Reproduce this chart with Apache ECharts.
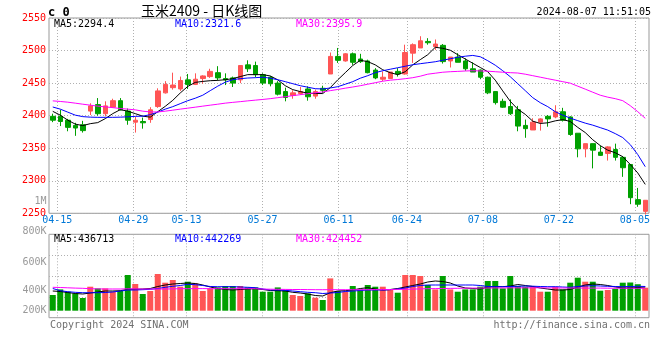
<!DOCTYPE html>
<html><head><meta charset="utf-8">
<script src="https://cdn.jsdelivr.net/npm/echarts@6/dist/echarts.min.js"></script>
<style>html,body{margin:0;padding:0;background:#fff}#c{width:660px;height:360px}</style>
</head><body><div id="c"></div><script>
const dates = ['04-12','04-15','04-16','04-17','04-18','04-19','04-22','04-23','04-24','04-25','04-26','04-29','04-30',
'05-06','05-07','05-08','05-09','05-10','05-13','05-14','05-15','05-16','05-17','05-20','05-21','05-22','05-23','05-24',
'05-27','05-28','05-29','05-30','05-31','06-03','06-04','06-05','06-06','06-07','06-11','06-12','06-13','06-14',
'06-17','06-18','06-19','06-20','06-21','06-24','06-25','06-26','06-27','06-28','07-01','07-02','07-03','07-04','07-05',
'07-08','07-09','07-10','07-11','07-12','07-15','07-16','07-17','07-18','07-19','07-22','07-23','07-24','07-25','07-26',
'07-29','07-30','07-31','08-01','08-02','08-05','08-06','08-07'];
const opens = [2399,2399,2393,2385,2386,2407,2417,2403,2413,2423,2407,2390,2391,2394,2414,2435,2443,2441,2455,2448,
2457,2460,2466,2457,2458,2455,2478,2477,2463,2459,2450,2437,2431,2434,2441,2430,2442,2464,2491,2484,
2495,2487,2484,2470,2456,2457,2468,2464,2496,2504,2514,2506,2508,2484,2490,2484,2472,2470,2459,2437,
2422,2414,2409,2385,2378,2390,2399,2398,2406,2398,2373,2349,2357,2344,2342,2348,2336,2325,2271,2253];
const closes = [2393,2391,2382,2381,2377,2415,2403,2415,2423,2409,2393,2393,2389,2409,2438,2448,2447,2454,2448,2456,
2461,2468,2458,2455,2450,2477,2472,2463,2450,2449,2433,2428,2435,2437,2429,2437,2439,2491,2485,2495,
2482,2483,2466,2458,2459,2467,2464,2497,2509,2515,2512,2510,2483,2490,2482,2472,2467,2459,2435,2420,
2413,2403,2384,2380,2390,2395,2395,2406,2393,2371,2349,2357,2347,2339,2352,2336,2320,2274,2264,2270];
const lows = [2390,2384,2376,2369,2374,2401,2400,2399,2412,2408,2386,2374,2380,2389,2412,2434,2440,2438,2441,2447,
2449,2458,2454,2447,2444,2450,2467,2459,2447,2445,2431,2422,2426,2432,2423,2426,2435,2464,2481,2483,
2478,2481,2465,2456,2453,2457,2460,2463,2481,2504,2509,2501,2480,2474,2482,2469,2467,2456,2433,2417,
2412,2401,2376,2366,2378,2377,2383,2396,2391,2369,2336,2336,2319,2338,2331,2331,2306,2264,2260,2248];
const highs = [2403,2409,2395,2389,2392,2419,2427,2422,2426,2427,2411,2398,2397,2413,2442,2453,2466,2460,2464,2465,
2462,2472,2476,2465,2460,2477,2485,2483,2465,2461,2453,2443,2439,2444,2445,2440,2446,2497,2504,2496,
2497,2495,2486,2473,2468,2467,2473,2509,2511,2522,2519,2517,2510,2490,2496,2488,2482,2471,2460,2437,
2426,2425,2415,2394,2396,2396,2401,2416,2412,2399,2373,2357,2357,2354,2353,2357,2338,2325,2289,2270];
const ma5 = [2406.6,2400.8,2393.1,2387.0,2384.7,2387.7,2389.3,2395.4,2403.1,2409.2,
2406.9,2403.1,2399.2,2397.7,2406.1,2414.3,2423.5,2434.8,2444.9,2451.1,
2452.6,2453.7,2454.2,2455.2,2456.8,2460.0,2463.0,2463.0,2463.0,2461.0,
2455.0,2446.0,2440.0,2437.0,2434.5,2434.0,2434.0,2443.0,2455.0,2466.0,
2477.0,2485.0,2483.0,2478.0,2470.5,2466.0,2463.0,2467.5,2478.0,2486.0,
2493.6,2505.0,2503.5,2500.5,2493.6,2487.0,2480.5,2474.0,2467.5,2454.5,
2438.0,2422.0,2410.0,2402.0,2391.5,2388.0,2389.0,2392.0,2394.0,2391.0,
2382.0,2374.0,2363.0,2354.0,2347.0,2343.0,2337.0,2325.0,2312.0,2294.4];
const ma10 = [2413.3,2410.0,2405.4,2400.8,2398.5,2397.7,2397.4,2397.4,2397.4,2397.7,
2398.2,2398.9,2399.2,2401.5,2405.4,2410.0,2413.8,2418.4,2423.0,2426.8,
2431.4,2438.4,2445.3,2451.4,2455.2,2456.8,2457.8,2458.3,2459.1,2457.5,
2455.2,2452.2,2449.1,2446.0,2443.7,2441.4,2441.0,2442.5,2444.5,2448.3,
2452.2,2457.5,2461.4,2466.0,2469.0,2471.3,2473.6,2475.9,2478.2,2479.8,
2481.3,2482.8,2485.1,2487.4,2489.7,2491.3,2492.5,2490.5,2484.4,2477.5,
2469.0,2459.8,2449.1,2438.4,2427.6,2419.9,2413.8,2406.1,2400.8,2396.2,
2392.3,2388.5,2385.4,2381.6,2377.8,2372.4,2366.3,2355.5,2340.2,2321.6];
const ma30 = [2422.7,2421.8,2420.7,2419.2,2417.6,2416.1,2414.6,2413.5,2412.3,2411.0,
2410.0,2408.9,2406.9,2405.7,2405.7,2406.9,2408.4,2410.0,2411.5,2413.0,
2414.6,2416.1,2417.6,2419.2,2420.4,2421.5,2422.7,2423.8,2424.9,2426.1,
2427.6,2429.1,2430.7,2432.2,2433.7,2435.0,2436.5,2438.4,2440.2,2442.2,
2444.0,2446.0,2448.3,2450.6,2452.9,2454.5,2455.5,2456.8,2458.3,2460.6,
2463.7,2465.2,2466.7,2467.5,2468.0,2468.6,2469.0,2468.7,2468.3,2467.5,
2466.7,2466.0,2465.5,2463.7,2461.4,2459.1,2456.8,2454.5,2452.2,2449.9,
2445.3,2440.7,2436.0,2431.4,2428.4,2426.1,2423.0,2415.3,2406.1,2395.9];
const volumes = [357000,413000,390000,373000,327000,440000,423000,423000,390000,397000,
557000,467000,367000,397000,567000,480000,507000,440000,490000,473000,
397000,423000,433000,447000,447000,447000,433000,433000,390000,390000,
433000,407000,357000,347000,373000,330000,307000,523000,397000,390000,
447000,413000,457000,440000,440000,407000,380000,557000,557000,547000,
457000,413000,547000,413000,390000,413000,413000,440000,497000,497000,
423000,547000,447000,440000,440000,390000,390000,440000,413000,480000,
530000,490000,490000,400000,407000,420000,480000,482000,465000,430000];
const volMa5 = [397000,392000,382000,372000,367000,377000,387000,397000,397000,400000,
414000,414000,417000,422000,442000,457000,467000,472000,477000,472000,
457000,437000,422000,412000,407000,412000,417000,420000,412000,402000,
400000,397000,384000,377000,367000,352000,347000,380000,397000,400000,
407000,422000,430000,417000,407000,412000,422000,437000,452000,467000,
487000,497000,492000,477000,447000,427000,422000,417000,437000,440000,
440000,447000,462000,452000,442000,427000,417000,407000,407000,412000,
437000,457000,467000,462000,452000,437000,427000,427000,432000,436713];
const volMa10 = [422000,400000,390000,384000,380000,380000,380000,382000,387000,397000,
407000,407000,410000,414000,422000,434000,444000,452000,464000,460000,
452000,442000,440000,440000,440000,437000,434000,430000,417000,407000,
407000,404000,397000,390000,384000,380000,372000,377000,382000,392000,
397000,402000,407000,407000,407000,410000,417000,427000,442000,452000,
457000,457000,457000,457000,457000,457000,457000,452000,442000,440000,
440000,442000,444000,447000,445000,442000,440000,440000,437000,434000,
442000,447000,450000,447000,444000,442000,440000,442000,444000,442269];
const volMa30 = [434000,432000,429000,426000,424000,420000,418000,417000,417000,417000,
419000,418000,417000,417000,417000,417000,418000,420000,420000,421000,
421000,420000,420000,420000,420000,420000,420000,420000,416000,415000,
414000,413000,412000,412000,411000,410000,410000,410000,410000,410000,
410000,410000,410000,411000,411000,412000,413000,414000,416000,418000,
420000,421000,422000,423000,424000,425000,426000,427000,427000,428000,
428000,429000,429000,429000,429000,429000,428000,428000,427000,427000,
427000,426000,426000,426000,425000,425000,425000,425000,424500,424452];
const dateTicks = ['04-15','04-29','05-13','05-27','06-11','06-24','07-08','07-22','08-05'];
const priceMin = 2250, priceMax = 2550, priceStep = 50;
const volTickLabels = ['1M','800K','600K','400K','200K'];
const titleText = '玉米2409 - 日K线图';
const timeText = '2024-08-07 11:51:05';

// ---- layout / style ----
const volTickY = [201, 231, 262, 290, 310];
const RED = '#FF5555', GREEN = '#00A000';
const GRIDC = '#B0B0B0';
const MONO = '"DejaVu Sans Mono", monospace';
const L = 49, W = 600;
const dotted = {color: GRIDC, type: [1, 2], width: 1};
const tickIdx = dateTicks.map(d => dates.indexOf(d));
const gxMin = -0.092, gxMax = 78.855;

const chart = echarts.init(document.getElementById('c'));
function txt(x, y, text, color, font, align) {
  return {type: 'text', x: x, y: y, silent: true, z: 100,
    style: {text: text, fill: color, font: font, textAlign: align || 'left', textVerticalAlign: 'middle'}};
}
const f10 = '10px ' + MONO;
const graphics = [
  txt(48, 13, 'c 0', '#000', 'bold 12px ' + MONO),
  txt(141, 11, titleText, '#000', '14px "Noto Sans CJK SC"'),
  txt(651, 12, timeText, '#000', f10, 'right'),
  txt(54, 24, 'MA5:' + ma5[ma5.length - 1].toFixed(1), '#000', f10),
  txt(175, 24, 'MA10:' + ma10[ma10.length - 1].toFixed(1), '#0000FF', f10),
  txt(296, 24, 'MA30:' + ma30[ma30.length - 1].toFixed(1), '#FF00FF', f10),
  txt(54, 239, 'MA5:' + Math.round(volMa5[volMa5.length - 1]), '#000', f10),
  txt(175, 239, 'MA10:' + Math.round(volMa10[volMa10.length - 1]), '#0000FF', f10),
  txt(296, 239, 'MA30:' + Math.round(volMa30[volMa30.length - 1]), '#FF00FF', f10),
  txt(50, 325, 'Copyright 2024 SINA.COM', '#707070', f10),
  txt(650, 325, 'http://finance.sina.com.cn', '#707070', f10, 'right')
];
volTickLabels.forEach((t, i) => graphics.push(txt(46.5, volTickY[i], t, '#999999', f10, 'right')));

const lineS = (data, color, xi, yi) => ({type: 'line', data: data, xAxisIndex: xi, yAxisIndex: yi,
  symbol: 'none', silent: true, lineStyle: {color: color, width: 1}, z: 5});

const option = {
  animation: false,
  backgroundColor: '#fff',
  grid: [
    {left: L, top: 18, width: W, height: 195.3, show: true, borderColor: '#999', borderWidth: 1, outerBoundsMode: 'none', containLabel: false},
    {left: L, top: 234.3, width: W, height: 76.4, show: false, outerBoundsMode: 'none', containLabel: false},
    {left: L, top: 234.3, width: W, height: 83.4, show: true, borderColor: '#999', borderWidth: 1, outerBoundsMode: 'none', containLabel: false}
  ],
  xAxis: [
    {type: 'category', gridIndex: 0, data: dates, boundaryGap: true, position: 'top', show: false},
    {type: 'value', gridIndex: 0, min: gxMin, max: gxMax, position: 'bottom',
      axisLine: {show: false}, axisTick: {show: false, customValues: tickIdx},
      axisLabel: {customValues: tickIdx, formatter: v => dates[Math.round(v)], color: '#0078D7', fontFamily: MONO, fontSize: 10, margin: 2},
      splitLine: {show: true, lineStyle: dotted}},
    {type: 'category', gridIndex: 1, data: dates, boundaryGap: true, show: false},
    {type: 'value', gridIndex: 2, min: gxMin, max: gxMax, position: 'bottom',
      axisLine: {show: false}, axisTick: {show: false, customValues: tickIdx},
      axisLabel: {show: false, customValues: tickIdx},
      splitLine: {show: true, lineStyle: dotted}}
  ],
  yAxis: [
    {type: 'value', gridIndex: 0, min: priceMin, max: priceMax, interval: priceStep,
      axisLine: {show: false}, axisTick: {show: false},
      axisLabel: {color: '#FF0000', fontFamily: MONO, fontSize: 10, margin: 3, padding: [0, 0, 5, 0], formatter: v => String(v)},
      splitLine: {show: true, lineStyle: dotted}},
    {type: 'value', gridIndex: 1, min: 200000, max: 964000, show: false, splitLine: {show: false}},
    {type: 'value', gridIndex: 2, min: 0, max: 4, interval: 1,
      axisLine: {show: false}, axisTick: {show: false}, axisLabel: {show: false},
      splitLine: {show: true, lineStyle: dotted}}
  ],
  graphic: graphics,
  series: [
    {type: 'candlestick', xAxisIndex: 0, yAxisIndex: 0, barWidth: 5, silent: true, z: 4,
      data: dates.map((d, i) => [opens[i], closes[i], lows[i], highs[i]]),
      itemStyle: {color: RED, color0: GREEN, borderColor: RED, borderColor0: GREEN, borderWidth: 1}},
    lineS(ma5, '#000000', 0, 0),
    lineS(ma10, '#0000FF', 0, 0),
    lineS(ma30, '#FF00FF', 0, 0),
    {type: 'bar', xAxisIndex: 2, yAxisIndex: 1, barWidth: 6, silent: true, z: 3,
      data: volumes.map((v, i) => ({value: v, itemStyle: {color: closes[i] >= opens[i] ? RED : GREEN}}))},
    lineS(volMa5, '#000000', 2, 1),
    lineS(volMa10, '#0000FF', 2, 1),
    lineS(volMa30, '#FF00FF', 2, 1)
  ]
};
chart.setOption(option);
</script></body></html>
